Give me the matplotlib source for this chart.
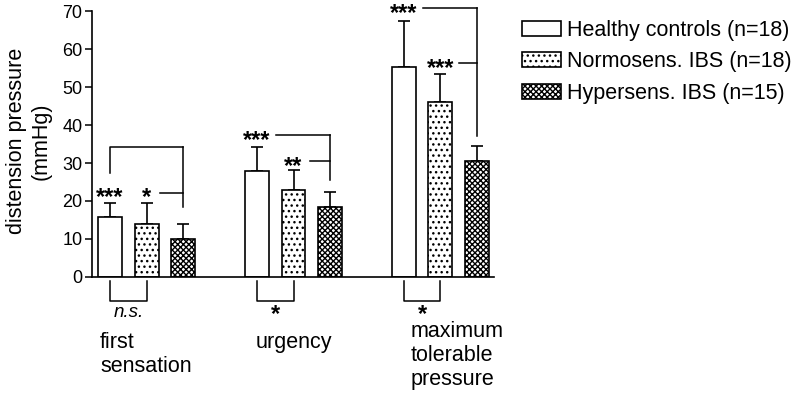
import numpy as np
import matplotlib.pyplot as plt
from matplotlib.patches import Patch

plt.rcParams['font.family'] = ['Liberation Sans', 'DejaVu Sans']
plt.rcParams['hatch.linewidth'] = 1.0

# data (mean, upper SD)
categories = ['first\nsensation', 'urgency', 'maximum\ntolerable\npressure']
groups = ['Healthy controls (n=18)', 'Normosens. IBS (n=18)', 'Hypersens. IBS (n=15)']
healthy = [15.7, 27.9, 55.2]
healthy_err = [3.9, 6.2, 12.2]
normo = [13.9, 22.9, 46.0]
normo_err = [5.7, 5.3, 7.4]
hyper = [9.9, 18.5, 30.5]
hyper_err = [4.0, 3.9, 4.1]

# significance vs hypersens. group: (stars healthy, level), (stars normo, level), bar3 leg bottom
sig_healthy = ['***', '***', '***']
sig_healthy_y = [34.3, 37.3, 70.7]
sig_normo = ['*', '**', '***']
sig_normo_y = [22.2, 30.6, 56.2]
leg_bottom = [18.3, 25.5, 37.2]
# healthy vs normosens. (below axis)
sig_below = ['n.s.', '*', '*']

means = [healthy, normo, hyper]
errs = [healthy_err, normo_err, hyper_err]
styles = [dict(facecolor='white', hatch=None),
          dict(facecolor='white', hatch='...'),
          dict(facecolor='white', hatch='xxxxxx')]

fig = plt.figure(figsize=(8, 3.94), dpi=100)
ax = fig.add_axes([0.115, 0.297, 0.5025, 0.675])

width = 0.65
group_x = np.arange(len(categories)) * 4.0
for i in range(3):
    xs = group_x + i
    ax.bar(xs, means[i], width, color=styles[i]['facecolor'], hatch=styles[i]['hatch'],
           edgecolor='black', linewidth=1.2, zorder=2)
    ax.errorbar(xs, means[i], yerr=[np.zeros(3), errs[i]], fmt='none', ecolor='black',
                elinewidth=1.2, capsize=4.3, capthick=1.2, zorder=1)

lw = 1.1
star_fs = 17
star_off = -8.5
for g in range(3):
    x1, x2, x3 = group_x[g], group_x[g] + 1, group_x[g] + 2
    top = sig_healthy_y[g]
    # vertical leg at hypersens bar
    ax.plot([x3, x3], [leg_bottom[g], top], color='black', lw=lw, clip_on=False)
    if g == 0:
        ax.plot([x1, x1, x3], [27.4, top, top], color='black', lw=lw, clip_on=False)
        ax.annotate(sig_healthy[g], (x1, 22.4), xytext=(0, star_off), textcoords='offset points',
                    ha='center', va='baseline', fontsize=star_fs, fontweight='bold')
    else:
        off = (10 + 3 * len(sig_healthy[g])) / 36.7
        ax.plot([x1 + off, x3], [top, top], color='black', lw=lw, clip_on=False)
        ax.annotate(sig_healthy[g], (x1, top), xytext=(0, star_off), textcoords='offset points',
                    ha='center', va='baseline', fontsize=star_fs, fontweight='bold',
                    annotation_clip=False)
    off = (10 + 3 * len(sig_normo[g])) / 36.7
    ax.plot([x2 + off, x3], [sig_normo_y[g], sig_normo_y[g]], color='black', lw=lw, clip_on=False)
    ax.annotate(sig_normo[g], (x2, sig_normo_y[g]), xytext=(0, star_off), textcoords='offset points',
                ha='center', va='baseline', fontsize=star_fs, fontweight='bold')
    # below axis bracket healthy vs normo
    ax.plot([x1, x1, x2, x2], [-1.0, -6.3, -6.3, -1.0], color='black', lw=lw, clip_on=False)
    if sig_below[g] == 'n.s.':
        ax.text((x1 + x2) / 2, -9.3, sig_below[g], ha='center', va='center', fontsize=13.5,
                style='italic')
    else:
        ax.annotate(sig_below[g], ((x1 + x2) / 2, -8.9), xytext=(0, -7.5),
                    textcoords='offset points', ha='center', va='baseline',
                    fontsize=star_fs, fontweight='bold', annotation_clip=False)

# category labels
label_x = [-0.27, 3.96, 8.19]
label_y = [-14.5, -14.5, -11.6]
for g in range(3):
    ax.text(label_x[g], label_y[g], categories[g], ha='left', va='top', fontsize=15.5,
            linespacing=1.2)

ax.set_xlim(-0.49, 10.46)
ax.set_ylim(0, 70)
ax.set_yticks(np.arange(0, 71, 10))
ax.set_xticks([])
ax.tick_params(axis='y', labelsize=13, length=5, width=1.1, pad=2)
for s in ['top', 'right']:
    ax.spines[s].set_visible(False)
for s in ['left', 'bottom']:
    ax.spines[s].set_linewidth(1.2)

fig.text(29 / 800, 1 - 141 / 394, 'distension pressure\n(mmHg)', rotation=90,
         ha='center', va='center', fontsize=15.5, linespacing=1.25)

handles = [Patch(facecolor=st['facecolor'], hatch=st['hatch'], edgecolor='black', linewidth=1.2)
           for st in styles]
fig.legend(handles, groups, loc='upper left', bbox_to_anchor=(0.652, 0.95), frameon=False,
           fontsize=15.5, handlelength=1.85, handleheight=0.7, handletextpad=0.25,
           labelspacing=0.5, borderpad=0, borderaxespad=0)

fig.savefig('out.png', dpi=100)
